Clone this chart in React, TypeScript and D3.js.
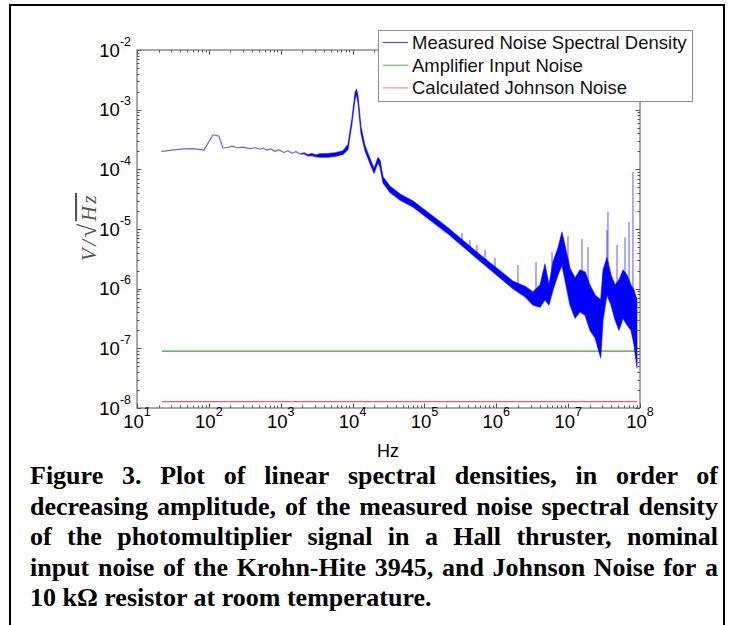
import React, { useRef, useEffect } from 'react';
import * as d3 from 'd3';

// measured spectrum (Hz, V/sqrt(Hz)); hi/lo give the width of the noisy band
const specFreq = [
  22.3, 43.7, 60, 85.5, 114, 138, 157, 184, 210, 246, 299, 374, 439, 515, 567, 644, 732, 832, 946,
  1110, 1263, 1437, 1633, 1855, 2110, 2400, 2725, 3100,
  3520, 4550, 5880, 7360, 8630, 9820, 10800, 11350, 11900, 13100, 14900, 17460, 19900, 22600, 24100,
  26500, 33200, 45700, 69300, 206000, 593000,
  1.71e6, 2.51e6, 3.24e6, 4.06e6, 4.76e6, 5.41e6, 6.15e6, 7.22e6, 8.2e6, 9.33e6,
  1.06e7, 1.25e7, 1.46e7, 1.72e7, 2.01e7, 2.37e7, 2.84e7, 3.06e7, 3.47e7, 3.95e7, 4.49e7,
  5.1e7, 5.8e7, 6.59e7, 7.5e7, 8.25e7, 9.08e7
];
const specHi = [
  2.0e-4, 2.2e-4, 2.23e-4, 2.1e-4, 3.8e-4, 3.6e-4, 2.28e-4, 2.32e-4, 2.45e-4, 2.3e-4, 2.35e-4, 2.22e-4, 2.3e-4, 2.17e-4, 2.26e-4, 2.1e-4, 2.2e-4, 2.0e-4, 2.12e-4,
  1.92e-4, 2.05e-4, 1.86e-4, 1.98e-4, 1.8e-4, 1.9e-4, 1.76e-4, 1.84e-4, 1.74e-4,
  1.82e-4, 1.84e-4, 1.9e-4, 2.05e-4, 2.6e-4, 7.2e-4, 1.9e-3, 2.22e-3, 1.69e-3, 5.1e-4, 2.5e-4, 1.52e-4, 1.03e-4, 1.58e-4, 1.42e-4,
  7.5e-5, 5.2e-5, 3.85e-5, 2.95e-5, 1.08e-5, 3.7e-6,
  1.33e-6, 1.1e-6, 8.8e-7, 1.15e-6, 2.6e-6, 1.15e-6, 2.8e-6, 4.8e-6, 8.9e-6, 4.45e-6,
  2.2e-6, 1.51e-6, 2.06e-6, 1.9e-6, 1.15e-6, 7.8e-7, 6.5e-7, 2.06e-6, 3.3e-6, 1.7e-6, 1.15e-6,
  1.4e-6, 2.06e-6, 1.7e-6, 1.15e-6, 9.5e-7, 6.5e-7
];
const specLo = [
  2.0e-4, 2.2e-4, 2.23e-4, 2.1e-4, 3.8e-4, 3.6e-4, 2.28e-4, 2.32e-4, 2.45e-4, 2.3e-4, 2.35e-4, 2.22e-4, 2.3e-4, 2.17e-4, 2.26e-4, 2.1e-4, 2.2e-4, 2.0e-4, 2.12e-4,
  1.92e-4, 2.05e-4, 1.86e-4, 1.98e-4, 1.8e-4, 1.82e-4, 1.68e-4, 1.7e-4, 1.62e-4,
  1.6e-4, 1.6e-4, 1.66e-4, 1.78e-4, 2.15e-4, 5.9e-4, 1.5e-3, 1.8e-3, 1.3e-3, 4.0e-4, 2.05e-4, 1.25e-4, 8.6e-5, 1.3e-4, 1.08e-4,
  5.9e-5, 4.1e-5, 3.05e-5, 2.33e-5, 8.6e-6, 2.9e-6,
  1.0e-6, 7.3e-7, 5.3e-7, 4.9e-7, 6.5e-7, 5.3e-7, 9.5e-7, 1.7e-6, 2.5e-6, 1.15e-6,
  5.3e-7, 3.2e-7, 4.1e-7, 3.6e-7, 2.0e-7, 1.5e-7, 6.9e-8, 3.0e-7, 7.8e-7, 5.3e-7, 3.0e-7,
  2.0e-7, 3.2e-7, 2.46e-7, 2.0e-7, 1.14e-7, 4.7e-8
];

// narrow lines sticking out of the band
const spikeFreq = [3.33e5, 4.3e5, 5.38e5, 6.97e5, 9.6e5, 2.0e6, 3.57e6, 5.96e6, 9.95e6, 1.56e7, 1.89e7, 3.47e7, 3.58e7, 4.79e7, 6.18e7, 7.03e7, 7.98e7];
const spikeTop = [8.6e-6, 6.5e-6, 5.4e-6, 4.45e-6, 3.3e-6, 2.5e-6, 2.8e-6, 4.1e-6, 7.6e-6, 6.8e-6, 5.0e-6, 9.6e-6, 1.93e-5, 5.4e-6, 7.3e-6, 1.31e-5, 9.0e-5];

const ampNoise = 9.0e-8;
const johnsonNoise = 1.28e-8;
const flatStart = 22.3;
const flatEnd = 9.08e7;

const xTickExp = [1, 2, 3, 4, 5, 6, 7, 8];
const yTickExp = [-8, -7, -6, -5, -4, -3, -2];

const legendLabels = ['Measured Noise Spectral Density', 'Amplifier Input Noise', 'Calculated Johnson Noise'];
const legendColors = ['#0000ff', '#3a9f3a', '#ff5a5a'];

const captionLines = [
  'Figure 3. Plot of linear spectral densities, in order of',
  'decreasing amplitude, of the measured noise spectral density',
  'of the photomultiplier signal in a Hall thruster, nominal',
  'input noise of the Krohn-Hite 3945, and Johnson Noise for a',
  '10 k\u03A9 resistor at room temperature.'
];

const sans = 'Liberation Sans, Arial, Helvetica, sans-serif';
const serif = 'Liberation Serif, Times New Roman, serif';

const App = () => {
  const svgRef = useRef(null);

  useEffect(() => {
    const svg = d3.select(svgRef.current);
    svg.selectAll('*').remove();

    const left = 137, right = 640, top = 50, bottom = 408;
    const x = d3.scaleLog().domain([10, 1e8]).range([left, right]);
    const y = d3.scaleLog().domain([1e-8, 1e-2]).range([bottom, top]);

    // page frame
    svg.append('path')
      .attr('d', 'M10,630 V5 H724 V630')
      .attr('fill', 'none')
      .attr('stroke', '#000')
      .attr('stroke-width', 2);

    // axes box + ticks
    const ax = svg.append('g').attr('stroke', '#555').attr('stroke-width', 1);
    ax.append('rect')
      .attr('x', left).attr('y', top)
      .attr('width', right - left).attr('height', bottom - top)
      .attr('fill', 'none');

    const isMajor = t => Math.abs(Math.log10(t) - Math.round(Math.log10(t))) < 1e-6;
    x.ticks().forEach(t => {
      const px = Math.round(x(t)) + 0.5;
      const len = isMajor(t) ? 4.5 : 2.5;
      ax.append('line').attr('x1', px).attr('x2', px).attr('y1', bottom).attr('y2', bottom - len);
      ax.append('line').attr('x1', px).attr('x2', px).attr('y1', top).attr('y2', top + len);
    });
    y.ticks().forEach(t => {
      const py = Math.round(y(t)) + 0.5;
      const len = isMajor(t) ? 4.5 : 2.5;
      ax.append('line').attr('x1', left).attr('x2', left + len).attr('y1', py).attr('y2', py);
      ax.append('line').attr('x1', right).attr('x2', right - len).attr('y1', py).attr('y2', py);
    });

    // tick labels
    const labels = svg.append('g').attr('font-family', sans).attr('fill', '#000');
    xTickExp.forEach(e => {
      const t = labels.append('text')
        .attr('x', x(Math.pow(10, e)))
        .attr('y', 427.5)
        .attr('text-anchor', 'middle')
        .style('font-size', '18.5px');
      t.append('tspan').text('10');
      t.append('tspan').style('font-size', '12.5px').attr('dy', -11.5).text(String(e));
    });
    yTickExp.forEach(e => {
      const t = labels.append('text')
        .attr('x', 131)
        .attr('y', y(Math.pow(10, e)) + 6.5)
        .attr('text-anchor', 'end')
        .style('font-size', '18.5px');
      t.append('tspan').text('10');
      t.append('tspan').style('font-size', '12.5px').attr('dy', -11).text(String(e));
    });

    // flat reference lines
    const flat = [
      { v: ampNoise, c: legendColors[1] },
      { v: johnsonNoise, c: legendColors[2] }
    ];
    flat.forEach(d => {
      svg.append('line')
        .attr('x1', x(flatStart)).attr('x2', x(flatEnd))
        .attr('y1', y(d.v)).attr('y2', y(d.v))
        .attr('stroke', d.c)
        .attr('stroke-width', 1.2);
    });

    // measured spectrum
    const pts = specFreq.map((f, i) => ({ f, hi: specHi[i], lo: specLo[i] }));
    const area = d3.area()
      .x(d => x(d.f))
      .y0(d => y(d.lo))
      .y1(d => y(d.hi));
    svg.append('path')
      .attr('d', area(pts))
      .attr('fill', '#0000ff')
      .attr('stroke', '#0000ff')
      .attr('stroke-opacity', 0.6)
      .attr('stroke-width', 1.2)
      .attr('stroke-linejoin', 'round');

    // spikes, from the band top up to the read peak
    const bandTop = f => {
      const i = Math.max(0, d3.bisectRight(specFreq, f) - 1);
      const j = Math.min(specFreq.length - 1, i + 1);
      if (i === j) return specHi[i];
      const t = (Math.log(f) - Math.log(specFreq[i])) / (Math.log(specFreq[j]) - Math.log(specFreq[i]));
      return Math.exp(Math.log(specHi[i]) + t * (Math.log(specHi[j]) - Math.log(specHi[i])));
    };
    spikeFreq.forEach((f, i) => {
      svg.append('line')
        .attr('x1', x(f)).attr('x2', x(f))
        .attr('y1', y(bandTop(f)) + 3)
        .attr('y2', y(spikeTop[i]))
        .attr('stroke', '#0000ff')
        .attr('stroke-opacity', 0.5)
        .attr('stroke-width', 1.3);
    });

    // legend
    const lg = svg.append('g');
    lg.append('rect')
      .attr('x', 378.5).attr('y', 30.5)
      .attr('width', 314).attr('height', 71)
      .attr('fill', '#fff')
      .attr('stroke', '#8c8c8c')
      .attr('stroke-width', 1);
    legendLabels.forEach((lab, i) => {
      const ly = 42.5 + i * 22.7;
      lg.append('line')
        .attr('x1', 383).attr('x2', 408)
        .attr('y1', ly).attr('y2', ly)
        .attr('stroke', legendColors[i])
        .attr('stroke-opacity', 0.7)
        .attr('stroke-width', 1.2);
      lg.append('text')
        .attr('x', 412).attr('y', ly + 6.5)
        .attr('font-family', sans)
        .style('font-size', '18.5px')
        .attr('fill', '#111')
        .text(lab);
    });

    // axis titles
    svg.append('text')
      .attr('x', 388).attr('y', 457)
      .attr('text-anchor', 'middle')
      .attr('font-family', sans)
      .style('font-size', '18px')
      .text('Hz');

    const yl = svg.append('text')
      .attr('transform', 'translate(96,227) rotate(-90)')
      .attr('text-anchor', 'middle')
      .attr('font-family', serif)
      .style('font-size', '21px')
      .style('letter-spacing', '2.5px')
      .attr('fill', '#555');
    yl.append('tspan').attr('font-style', 'italic').text('V/');
    yl.append('tspan').style('font-size', '25px').text('\u221A');
    yl.append('tspan').attr('font-style', 'italic').style('text-decoration', 'overline').text('Hz');

    // caption, justified by hand
    const cap = svg.append('g')
      .attr('font-family', serif)
      .attr('font-weight', 'bold')
      .style('font-size', '26px')
      .attr('fill', '#000');
    const cx0 = 30, cx1 = 718;
    captionLines.forEach((line, li) => {
      const yb = 484 + li * 30.5;
      const t = cap.append('text').attr('y', yb);
      if (li === captionLines.length - 1) {
        t.attr('x', cx0).text(line);
        return;
      }
      const words = line.split(' ');
      const spans = words.map(w => t.append('tspan').text(w));
      const widths = spans.map(s => s.node().getComputedTextLength());
      const sum = d3.sum(widths);
      let gap = (cx1 - cx0 - sum) / (words.length - 1);
      if (gap < 5) {
        gap = 5;
        const s = (cx1 - cx0) / (sum + gap * (words.length - 1));
        t.attr('transform', `translate(${cx0},0) scale(${s},1) translate(${-cx0},0)`);
      }
      let pos = cx0;
      spans.forEach((s, i) => {
        s.attr('x', pos);
        pos += widths[i] + gap;
      });
    });
  }, []);

  return (
    <svg
      ref={svgRef}
      width={735}
      height={625}
      style={{ position: 'absolute', left: 0, top: 0, background: '#fff', display: 'block' }}
    />
  );
};

export default App;
